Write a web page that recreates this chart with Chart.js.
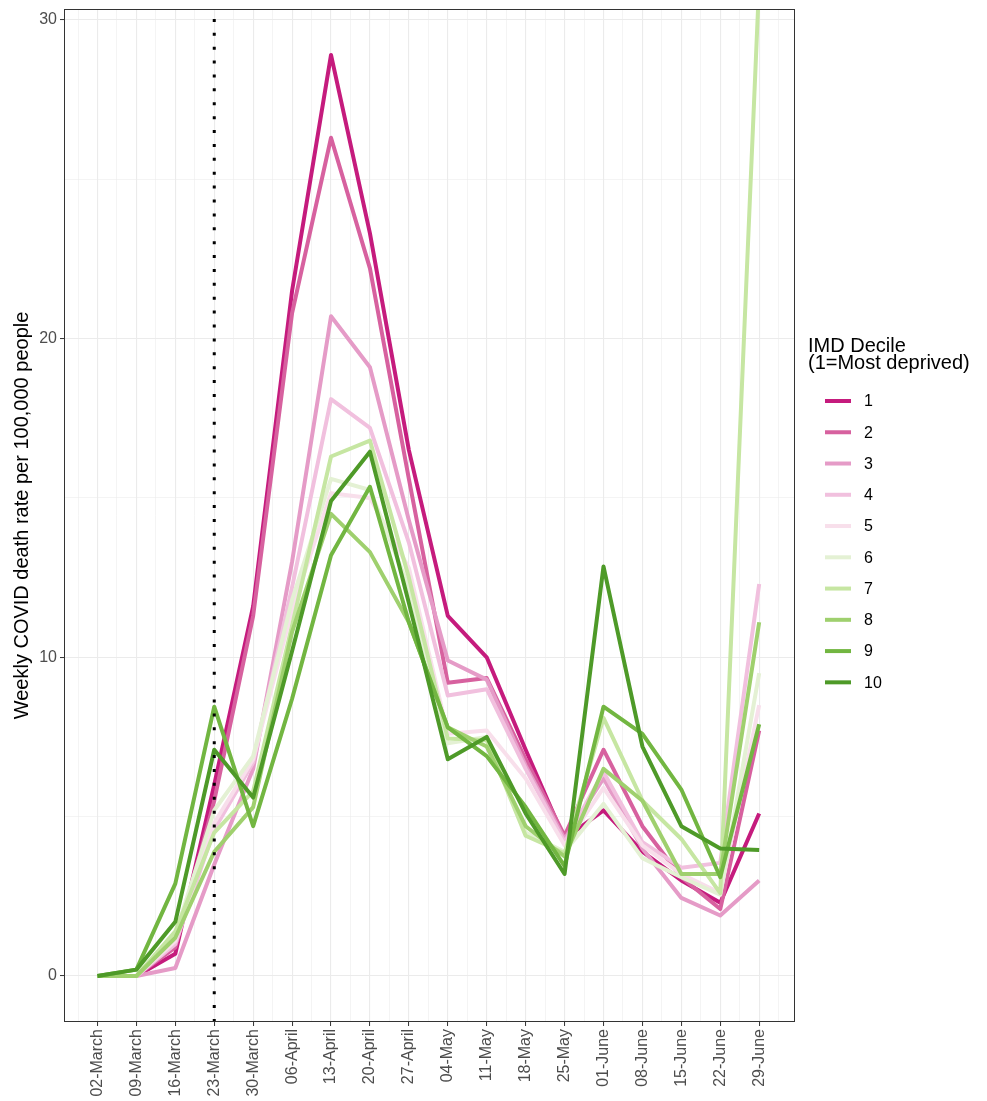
<!DOCTYPE html>
<html>
<head>
<meta charset="utf-8">
<title>Weekly COVID death rate by IMD decile</title>
<script src="https://cdn.jsdelivr.net/npm/chart.js@4.4.1/dist/chart.umd.min.js"></script>
<style>
  html, body { margin: 0; padding: 0; background: #ffffff; }
  canvas { display: block; }
</style>
</head>
<body>
<canvas id="chart" width="987" height="1101"></canvas>
<script>
// Week-commencing labels along the x axis
const weeks = ['02-March', '09-March', '16-March', '23-March', '30-March', '06-April',
  '13-April', '20-April', '27-April', '04-May', '11-May', '18-May', '25-May',
  '01-June', '08-June', '15-June', '22-June', '29-June'];

// Week of the lockdown announcement (dotted reference line)
const lockdownWeek = '23-March';

// IMD deciles (1 = most deprived)
const deciles = ['1', '2', '3', '4', '5', '6', '7', '8', '9', '10'];

// Weekly COVID death rate per 100,000 people, one array per decile
const decile1  = [0, 0,   0.7,  6.0,  11.6, 21.5, 28.9,  23.3,  16.5, 11.3,  10.0, 7.1, 4.3,  5.2,  3.9, 3.0,  2.3,  5.1];
const decile2  = [0, 0,   0.9,  5.5,  11.3, 20.8, 26.3,  22.2,  15.6, 9.2,   9.35, 6.8, 4.4,  7.1,  4.7, 3.1,  2.1,  7.7];
const decile3  = [0, 0,   0.25, 3.5,  6.5,  13.0, 20.7,  19.1,  14.3, 9.9,   9.3,  6.6, 4.3,  6.2,  4.0, 2.45, 1.9,  3.0];
const decile4  = [0, 0,   1.0,  4.6,  6.7,  12.2, 18.1,  17.2,  13.6, 8.8,   9.0,  6.5, 4.2,  6.4,  4.2, 3.4,  3.55, 12.3];
const decile5  = [0, 0,   1.1,  4.8,  6.8,  11.5, 15.15, 15.0,  12.8, 7.6,   7.7,  6.2, 4.1,  5.9,  4.1, 3.2,  2.6,  8.5];
const decile6  = [0, 0,   1.3,  5.2,  6.9,  11.8, 15.6,  15.25, 12.2, 7.3,   7.5,  4.5, 3.9,  5.4,  3.7, 3.1,  2.55, 9.5];
const decile7  = [0, 0,   1.4,  4.5,  5.8,  11.0, 16.3,  16.8,  12.5, 7.45,  7.4,  4.4, 3.85, 8.1,  5.5, 4.3,  2.6,  31.2];
const decile8  = [0, 0,   1.2,  3.9,  5.3,  10.8, 14.5,  13.3,  11.1, 7.8,   7.2,  4.7, 3.75, 6.5,  5.5, 3.2,  3.2,  11.1];
const decile9  = [0, 0.2, 2.9,  8.45, 4.7,  8.7,  13.2,  15.35, 11.1, 7.8,   6.9,  5.3, 3.45, 8.45, 7.6, 5.85, 3.1,  7.9];
const decile10 = [0, 0.2, 1.7,  7.1,  5.6,  10.2, 14.9,  16.45, 11.7, 6.8,   7.5,  5.1, 3.2,  12.85, 7.2, 4.7, 4.0,  3.95];

const decileSeries = [decile1, decile2, decile3, decile4, decile5,
  decile6, decile7, decile8, decile9, decile10];

// Pink (deprived) to green (least deprived) palette
const decileColours = ['#c51b7d', '#d7619f', '#e59bc7', '#f1c0de', '#f8dfeb',
  '#e4f1d4', '#c6e6a2', '#9fd06e', '#72b641', '#4e9a28'];

// Y axis tick values (labelled every 10, minor grid every 5)
const yTicks = [0, 5, 10, 15, 20, 25, 30];

const FONT = "'Liberation Sans', Arial, Helvetica, sans-serif";

const datasets = deciles.map((d, i) => ({
  label: d,
  data: decileSeries[i].map((v, w) => ({ x: w, y: v })),
  borderColor: decileColours[i],
  backgroundColor: decileColours[i],
  borderWidth: 4,
  borderJoinStyle: 'round',
  borderCapStyle: 'butt',
  pointRadius: 0,
  tension: 0,
  fill: false,
  clip: 0,
  order: deciles.length - i
}));

// Panel frame, lockdown line and legend
const decorations = {
  id: 'decorations',
  afterDatasetsDraw(chart) {
    const { ctx, chartArea: a, scales } = chart;
    const x = scales.x.getPixelForValue(weeks.indexOf(lockdownWeek));
    ctx.save();
    ctx.beginPath();
    ctx.rect(a.left, a.top, a.right - a.left, a.bottom - a.top);
    ctx.clip();
    ctx.strokeStyle = '#000000';
    ctx.lineWidth = 3;
    ctx.lineCap = 'butt';
    ctx.setLineDash([3, 10.89]);
    ctx.beginPath();
    ctx.moveTo(x, a.bottom);
    ctx.lineTo(x, a.top);
    ctx.stroke();
    ctx.restore();
  },
  afterDraw(chart) {
    const { ctx, chartArea: a } = chart;
    ctx.save();
    ctx.strokeStyle = '#333333';
    ctx.lineWidth = 1;
    ctx.strokeRect(Math.round(a.left) + 0.5, Math.round(a.top) + 0.5,
      Math.round(a.right - a.left) - 1, Math.round(a.bottom - a.top) - 1);

    // legend
    const lx = 808;
    ctx.fillStyle = '#000000';
    ctx.font = '20px ' + FONT;
    ctx.textAlign = 'left';
    ctx.textBaseline = 'alphabetic';
    ctx.fillText('IMD Decile', lx, 352);
    ctx.fillText('(1=Most deprived)', lx, 369);

    ctx.font = '16px ' + FONT;
    ctx.textBaseline = 'middle';
    chart.data.datasets.forEach((ds, i) => {
      const cy = 401 + i * 31.26;
      ctx.strokeStyle = ds.borderColor;
      ctx.lineWidth = 4;
      ctx.setLineDash([]);
      ctx.beginPath();
      ctx.moveTo(825, cy);
      ctx.lineTo(851, cy);
      ctx.stroke();
      ctx.fillStyle = '#000000';
      ctx.fillText(ds.label, 864, cy + 1);
    });
    ctx.restore();
  }
};

const majorX = (v) => Number.isInteger(v);

const noEdgePadding = (scale) => {
  scale.paddingTop = 0;
  scale.paddingBottom = 0;
  scale.paddingLeft = 0;
  scale.paddingRight = 0;
};

new Chart(document.getElementById('chart'), {
  type: 'line',
  data: { datasets },
  plugins: [decorations],
  options: {
    responsive: false,
    animation: false,
    devicePixelRatio: 1,
    events: [],
    layout: { padding: { top: 9, right: 192, bottom: 0, left: 0 } },
    plugins: { legend: { display: false }, tooltip: { enabled: false } },
    scales: {
      x: {
        type: 'linear',
        min: -0.86,
        max: 17.92,
        afterBuildTicks(scale) {
          const t = [];
          for (let v = -0.5; v <= weeks.length - 0.5; v += 0.5) t.push({ value: v });
          scale.ticks = t;
        },
        afterFit(scale) { scale.height = 79; noEdgePadding(scale); },
        border: { display: false },
        grid: {
          color: '#ebebeb',
          lineWidth: (c) => (c.tick && majorX(c.tick.value) ? 1.1 : 0.55),
          tickColor: (c) => (c.tick && majorX(c.tick.value) ? '#333333' : 'rgba(0,0,0,0)'),
          tickLength: 4,
          tickWidth: 1
        },
        ticks: {
          autoSkip: false,
          minRotation: 90,
          maxRotation: 90,
          padding: 3,
          color: '#4d4d4d',
          font: { family: FONT, size: 16 },
          callback: (v) => (majorX(v) ? weeks[v] : '')
        }
      },
      y: {
        type: 'linear',
        min: -1.443,
        max: 30.34,
        afterBuildTicks(scale) { scale.ticks = yTicks.map((v) => ({ value: v })); },
        afterFit(scale) { scale.width = 64; noEdgePadding(scale); },
        border: { display: false },
        grid: {
          color: '#ebebeb',
          lineWidth: (c) => (c.tick && c.tick.value % 10 === 0 ? 1.1 : 0.55),
          tickColor: (c) => (c.tick && c.tick.value % 10 === 0 ? '#333333' : 'rgba(0,0,0,0)'),
          tickLength: 4,
          tickWidth: 1
        },
        ticks: {
          padding: 3,
          color: '#4d4d4d',
          font: { family: FONT, size: 16 },
          callback: (v) => (v % 10 === 0 ? String(v) : '')
        },
        title: {
          display: true,
          text: 'Weekly COVID death rate per 100,000 people',
          color: '#000000',
          font: { family: FONT, size: 20 },
          padding: { top: 10, bottom: 0 }
        }
      }
    }
  }
});
</script>
</body>
</html>
